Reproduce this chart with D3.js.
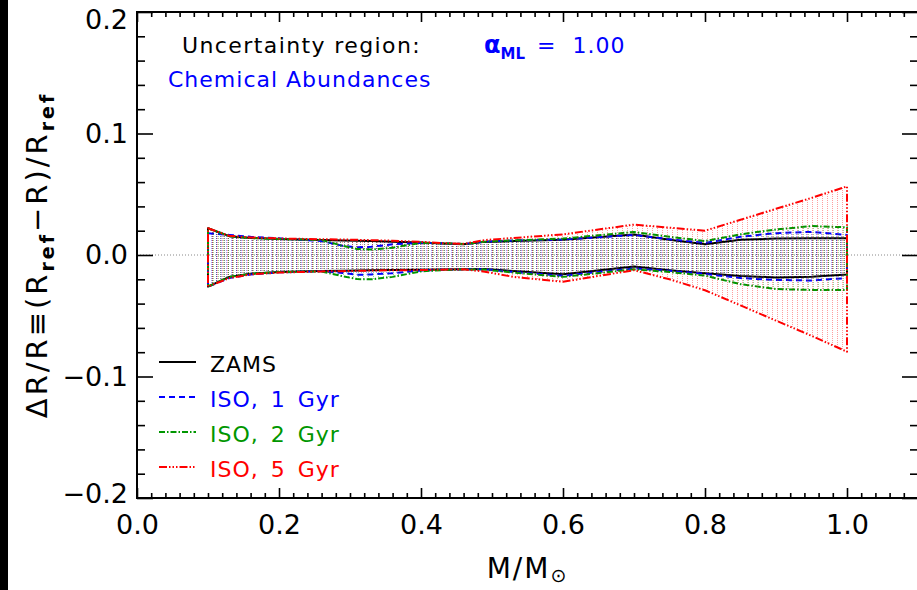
<!DOCTYPE html>
<html>
<head>
<meta charset="utf-8">
<script src="https://cdn.jsdelivr.net/npm/d3@7"></script>
<style>
  html, body { margin: 0; padding: 0; background: #fff; }
  svg { display: block; font-family: "DejaVu Sans", sans-serif; }
</style>
</head>
<body>
<svg id="chart" width="917" height="590"></svg>
<script>
// Stellar mass grid (M/Msun) at which the envelopes are sampled
const mass = [0.10, 0.13, 0.16, 0.20, 0.26, 0.29, 0.31, 0.33, 0.36, 0.40, 0.43, 0.46,
              0.49, 0.53, 0.60, 0.70, 0.75, 0.80, 0.85, 0.90, 0.95, 1.00];

// Upper / lower bounds of the radius uncertainty band, dR/R
const zamsUpper = [0.0220, 0.0155, 0.0140, 0.0132, 0.0123, 0.0120, 0.0118, 0.0115, 0.0110, 0.0103, 0.0095, 0.0088,
                   0.0108, 0.0115, 0.0125, 0.0168, 0.0125, 0.0088, 0.0125, 0.0135, 0.0137, 0.0137];
const zamsLower = [-0.0260, -0.0180, -0.0155, -0.0140, -0.0132, -0.0130, -0.0128, -0.0126, -0.0124, -0.0122, -0.0120, -0.0117,
                   -0.0115, -0.0132, -0.0158, -0.0095, -0.0125, -0.0150, -0.0172, -0.0185, -0.0180, -0.0160];

const iso1Upper = [0.0180, 0.0165, 0.0150, 0.0137, 0.0115, 0.0075, 0.0063, 0.0068, 0.0088, 0.0100, 0.0097, 0.0090,
                   0.0110, 0.0120, 0.0128, 0.0165, 0.0130, 0.0100, 0.0150, 0.0180, 0.0190, 0.0165];
const iso1Lower = [-0.0260, -0.0190, -0.0160, -0.0143, -0.0133, -0.0148, -0.0163, -0.0160, -0.0150, -0.0128, -0.0122, -0.0118,
                   -0.0118, -0.0140, -0.0170, -0.0110, -0.0130, -0.0155, -0.0190, -0.0205, -0.0210, -0.0190];

const iso2Upper = [0.0220, 0.0155, 0.0140, 0.0132, 0.0123, 0.0075, 0.0050, 0.0045, 0.0060, 0.0100, 0.0097, 0.0090,
                   0.0110, 0.0120, 0.0135, 0.0190, 0.0150, 0.0115, 0.0170, 0.0210, 0.0238, 0.0228];
const iso2Lower = [-0.0260, -0.0180, -0.0155, -0.0140, -0.0135, -0.0175, -0.0198, -0.0200, -0.0180, -0.0135, -0.0124, -0.0118,
                   -0.0120, -0.0145, -0.0180, -0.0118, -0.0140, -0.0170, -0.0240, -0.0280, -0.0288, -0.0288];

const iso5Upper = [0.0220, 0.0158, 0.0145, 0.0136, 0.0130, 0.0128, 0.0125, 0.0122, 0.0118, 0.0108, 0.0098, 0.0092,
                   0.0123, 0.0140, 0.0170, 0.0250, 0.0225, 0.0200, 0.0290, 0.0380, 0.0470, 0.0565];
const iso5Lower = [-0.0260, -0.0190, -0.0160, -0.0145, -0.0135, -0.0133, -0.0130, -0.0128, -0.0126, -0.0124, -0.0121, -0.0118,
                   -0.0137, -0.0180, -0.0220, -0.0125, -0.0200, -0.0290, -0.0415, -0.0540, -0.0665, -0.0796];

const seriesNames  = ["ZAMS", "ISO, 1 Gyr", "ISO, 2 Gyr", "ISO, 5 Gyr"];
const seriesColors = ["#000000", "#0000ff", "#009600", "#ff0000"];

// Axis ticks
const xMajor = [0.0, 0.2, 0.4, 0.6, 0.8, 1.0];
const yMajor = [-0.2, -0.1, 0.0, 0.1, 0.2];

// ---------------------------------------------------------------
const series = [
  { name: seriesNames[0], color: seriesColors[0], up: zamsUpper, lo: zamsLower, dash: null,                    hatch: 4, off: 0, hop: 0.5,  width: 2.0 },
  { name: seriesNames[1], color: seriesColors[1], up: iso1Upper, lo: iso1Lower, dash: "6 4",                   hatch: 5, off: 1, hop: 0.4,  width: 2.0 },
  { name: seriesNames[2], color: seriesColors[2], up: iso2Upper, lo: iso2Lower, dash: "6 2 1.5 2",             hatch: 5, off: 3, hop: 0.4,  width: 2.0 },
  { name: seriesNames[3], color: seriesColors[3], up: iso5Upper, lo: iso5Lower, dash: "8 2 1.5 2 1.5 2 1.5 2", hatch: 5, off: 2, hop: 0.38, width: 2.0 }
];

const svg = d3.select("#chart");
const W = 917, H = 590;
const x = d3.scaleLinear().domain([0, 1.1]).range([137, 918]);
const y = d3.scaleLinear().domain([-0.2, 0.2]).range([498, 12]);

svg.append("rect").attr("width", W).attr("height", H).attr("fill", "#fff");
svg.append("rect").attr("x", 0).attr("y", 0).attr("width", 8).attr("height", H).attr("fill", "#000");

// Vertical dotted hatch patterns, one per series
const defs = svg.append("defs");
series.forEach((s, i) => {
  const p = defs.append("pattern")
    .attr("id", "hatch" + i)
    .attr("patternUnits", "userSpaceOnUse")
    .attr("x", s.off).attr("y", 0)
    .attr("width", s.hatch).attr("height", 2);
  p.append("rect").attr("x", 0).attr("y", 0).attr("width", 1).attr("height", 1)
    .attr("fill", s.color).attr("fill-opacity", s.hop);
});

const plot = svg.append("g");

// zero reference line
plot.append("line")
  .attr("x1", x(0)).attr("x2", x(1.1))
  .attr("y1", y(0)).attr("y2", y(0))
  .attr("stroke", "#888").attr("stroke-width", 1)
  .attr("stroke-dasharray", "1 2");

series.forEach((s, i) => {
  const pts = mass.map((m, k) => ({ m, u: s.up[k], l: s.lo[k] }));
  const area = d3.area().x(d => x(d.m)).y0(d => y(d.l)).y1(d => y(d.u));
  plot.append("path").datum(pts).attr("d", area).attr("fill", `url(#hatch${i})`);

  // closed outline of the band: upper edge, right edge, lower edge back, left edge
  const ring = pts.map(d => [x(d.m), y(d.u)])
    .concat(pts.slice().reverse().map(d => [x(d.m), y(d.l)]));
  plot.append("path")
    .attr("d", d3.line().curve(d3.curveLinearClosed)(ring))
    .attr("fill", "none")
    .attr("stroke", s.color)
    .attr("stroke-width", s.width)
    .attr("stroke-dasharray", s.dash)
    .attr("stroke-linejoin", "round");
});

// ---------------- axes ----------------
const fmt = d3.format(".1f");
const xMinor = d3.range(0, 1.1001, 0.02).filter(v => !xMajor.some(t => Math.abs(t - v) < 1e-6));
const yMinor = d3.range(-0.2, 0.2001, 0.02).filter(v => !yMajor.some(t => Math.abs(t - v) < 1e-6));

function styleAxis(g) {
  g.select(".domain").remove();
  g.selectAll(".tick line").attr("stroke", "#000").attr("stroke-width", 1.6);
  g.selectAll(".tick text").attr("fill", "#000").attr("font-size", 27)
    .attr("font-family", "DejaVu Sans, sans-serif");
}

svg.append("g").attr("transform", `translate(0,${y(-0.2)})`)
  .call(d3.axisBottom(x).tickValues(xMajor).tickSize(-10).tickSizeOuter(0).tickPadding(17).tickFormat(fmt))
  .call(styleAxis);
svg.append("g").attr("transform", `translate(0,${y(-0.2)})`)
  .call(d3.axisBottom(x).tickValues(xMinor).tickSize(-5).tickSizeOuter(0).tickFormat(""))
  .call(styleAxis);
svg.append("g").attr("transform", `translate(0,${y(0.2)})`)
  .call(d3.axisTop(x).tickValues(xMajor).tickSize(-10).tickSizeOuter(0).tickFormat(""))
  .call(styleAxis);
svg.append("g").attr("transform", `translate(0,${y(0.2)})`)
  .call(d3.axisTop(x).tickValues(xMinor).tickSize(-5).tickSizeOuter(0).tickFormat(""))
  .call(styleAxis);

const yAxisG = svg.append("g").attr("transform", `translate(${x(0)},0)`)
  .call(d3.axisLeft(y).tickValues(yMajor).tickSize(-16).tickSizeOuter(0).tickPadding(9).tickFormat(fmt))
  .call(styleAxis);
// end labels are nudged inward so they stay clear of the window edge
yAxisG.selectAll(".tick text")
  .attr("dy", d => d === 0.2 ? "0.6em" : d === -0.2 ? "0.15em" : "0.32em");
svg.append("g").attr("transform", `translate(${x(0)},0)`)
  .call(d3.axisLeft(y).tickValues(yMinor).tickSize(-8).tickSizeOuter(0).tickFormat(""))
  .call(styleAxis);
svg.append("g").attr("transform", `translate(${x(1.1)},0)`)
  .call(d3.axisRight(y).tickValues(yMajor).tickSize(-16).tickSizeOuter(0).tickFormat(""))
  .call(styleAxis);
svg.append("g").attr("transform", `translate(${x(1.1)},0)`)
  .call(d3.axisRight(y).tickValues(yMinor).tickSize(-8).tickSizeOuter(0).tickFormat(""))
  .call(styleAxis);

// frame
svg.append("rect")
  .attr("x", x(0)).attr("y", y(0.2))
  .attr("width", x(1.1) - x(0)).attr("height", y(-0.2) - y(0.2))
  .attr("fill", "none").attr("stroke", "#000").attr("stroke-width", 2);

// ---------------- axis titles ----------------
const xt = svg.append("text")
  .attr("x", (x(0) + x(1.1)) / 2).attr("y", 578)
  .attr("text-anchor", "middle").attr("font-size", 28).attr("fill", "#000")
  .attr("letter-spacing", 2);
xt.append("tspan").text("M/M");
xt.append("tspan").attr("dy", 4).attr("font-size", 19).text("⊙");

const yt = svg.append("text")
  .attr("transform", `translate(47,${(y(0.2) + y(-0.2)) / 2}) rotate(-90)`)
  .attr("text-anchor", "middle").attr("font-size", 29).attr("fill", "#000")
  .attr("letter-spacing", 3);
yt.append("tspan").text("ΔR/R≡(R");
yt.append("tspan").attr("dy", 7).attr("font-size", 19).attr("font-weight", "bold").text("ref");
yt.append("tspan").attr("dy", -7).text("−R)/R");
yt.append("tspan").attr("dy", 7).attr("font-size", 19).attr("font-weight", "bold").text("ref");

// ---------------- annotations ----------------
svg.append("text").attr("x", 182).attr("y", 53)
  .attr("font-size", 22).attr("letter-spacing", 1.4).attr("fill", "#000")
  .text("Uncertainty region:");
const al = svg.append("text").attr("x", 484).attr("y", 53)
  .attr("font-size", 24).attr("fill", "#0000ff").attr("font-weight", "bold");
al.append("tspan").text("α");
al.append("tspan").attr("dy", 6).attr("font-size", 15).text("ML");
svg.append("text").attr("x", 537).attr("y", 53)
  .attr("font-size", 22).attr("letter-spacing", 1).attr("fill", "#0000ff")
  .style("white-space", "pre")
  .text("=  1.00");
svg.append("text").attr("x", 168).attr("y", 87)
  .attr("font-size", 22).attr("letter-spacing", 1).attr("fill", "#0000ff")
  .text("Chemical Abundances");

// ---------------- legend ----------------
const legY = [362, 397, 432, 467];
const leg = svg.append("g");
series.forEach((s, i) => {
  leg.append("line")
    .attr("x1", 159).attr("x2", 196)
    .attr("y1", legY[i]).attr("y2", legY[i])
    .attr("stroke", s.color).attr("stroke-width", 1.8)
    .attr("stroke-dasharray", s.dash);
  leg.append("text")
    .attr("x", 210).attr("y", legY[i] + 10)
    .attr("font-size", 22).attr("letter-spacing", 1).attr("word-spacing", 4)
    .attr("fill", s.color)
    .text(s.name);
});
</script>
</body>
</html>
